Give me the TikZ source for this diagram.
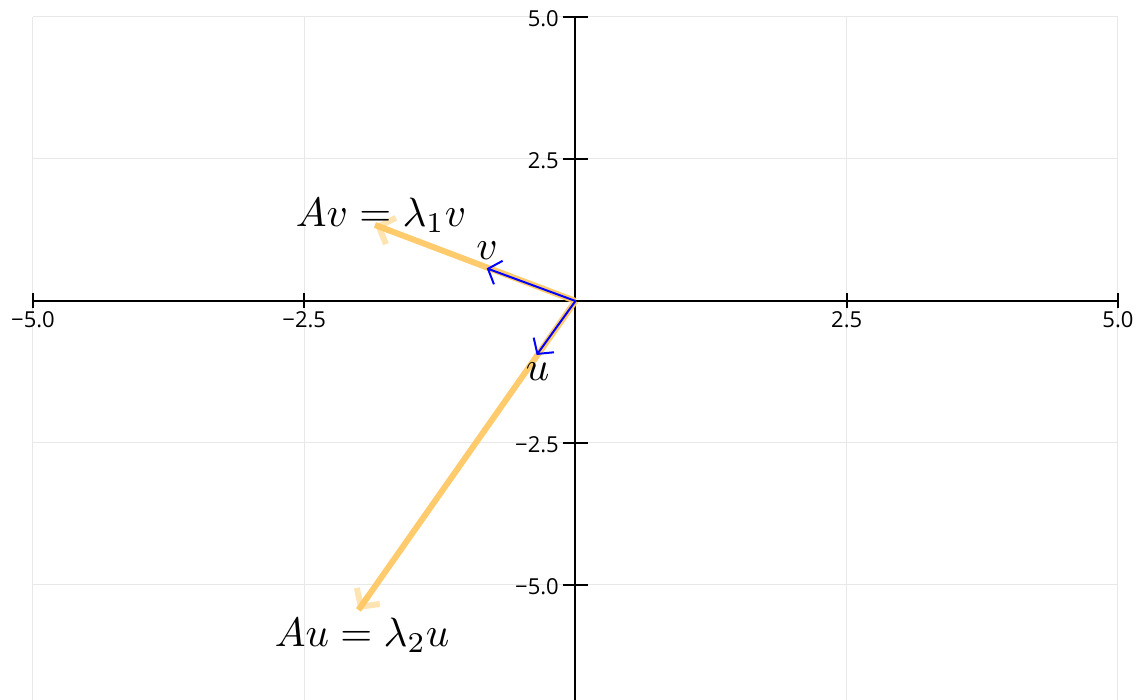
\documentclass[tikz,border=0pt]{standalone}
\usepackage{fontspec}
\setmainfont{Open Sans}
\usetikzlibrary{arrows.meta,calc}
\definecolor{vecorange}{RGB}{255,200,100}
\definecolor{gridgray}{RGB}{232,232,232}
\definecolor{vecblue}{RGB}{0,0,255}
\begin{document}
\begin{tikzpicture}[x=108.5pt,y=56.8pt,
  gridline/.style={draw=gridgray,line width=1pt},
  axisline/.style={draw=black,line width=2pt},
  tickline/.style={draw=black,line width=1.6pt},
  xticklabel/.style={anchor=base,inner sep=0pt,yshift=-27pt,font=\fontsize{22}{24}\selectfont},
  yticklabel/.style={anchor=base east,inner sep=0pt,xshift=-16.5pt,yshift=-9.5pt,font=\fontsize{22}{24}\selectfont},
  shaft/.style={draw=vecorange,line width=6pt,draw opacity=0.95},
  orangehead/.style={draw=vecorange,opacity=0.5,line width=6pt,-{Straight Barb[length=13pt,width=28pt,line width=6pt]}},
  bluevec/.style={draw=vecblue,line width=2pt,-{Straight Barb[length=11pt,width=25pt,line width=2pt]}},
  mathlabel/.style={inner sep=0pt,scale=4.1}]
\useasboundingbox (-5.304,-7.025) rectangle (5.194,5.299);
% grid
\foreach \gx in {-5,-2.5,2.5,5}
  \draw[gridline] (\gx,-7.025) -- (\gx,5);
\foreach \gy in {-5,-2.5,2.5,5}
  \draw[gridline] (-5,\gy) -- (5,\gy);
% axes
\coordinate (O) at (0,0);
\coordinate (xl) at (-5,0);
\coordinate (xr) at (5,0);
\coordinate (yt) at (0,5);
\coordinate (yb) at (0,-7.025);
\draw[axisline] (xl) -- (xr);
\draw[axisline] (yt) -- (yb);
% x ticks
\foreach \gx/\lab in {-5/{−5.0},-2.5/{−2.5},2.5/{2.5},5/{5.0}}{
  \draw[tickline] ([yshift=-7.5pt]\gx,0) -- ([yshift=7.5pt]\gx,0);
  \node[xticklabel] (xt\gx) at (\gx,0) {\lab};
}
% y ticks
\foreach \gy/\lab in {5/{5.0},2.5/{2.5},-2.5/{−2.5},-5/{−5.0}}{
  \draw[tickline] ([xshift=-12.5pt]0,\gy) -- ([xshift=12.5pt]0,\gy);
  \node[yticklabel] (yt\gy) at (0,\gy) {\lab};
}
% vectors
\coordinate (v) at (-0.818,0.575);
\coordinate (u) at (-0.358,-0.951);
\coordinate (Av) at (-1.848,1.338);
\coordinate (Au) at (-2.0,-5.44);
\draw[shaft] (O) -- (Av);
\draw[orangehead] ($(Av)!18pt!(O)$) -- (Av);
\draw[shaft] (O) -- (Au);
\draw[orangehead] ($(Au)!18pt!(O)$) -- (Au);
\draw[bluevec] (O) -- (v);
\draw[bluevec] (O) -- (u);
% labels
\node[mathlabel,anchor=base west] (lAv) at (-2.585,1.308) {$Av=\lambda_1v$};
\node[mathlabel,anchor=base west] (lAu) at (-2.779,-6.086) {$Au=\lambda_2u$};
\node[mathlabel,anchor=base] (lv) at (-0.816,0.722) {$v$};
\node[mathlabel,anchor=base] (lu) at (-0.350,-1.403) {$u$};
\end{tikzpicture}
\end{document}
